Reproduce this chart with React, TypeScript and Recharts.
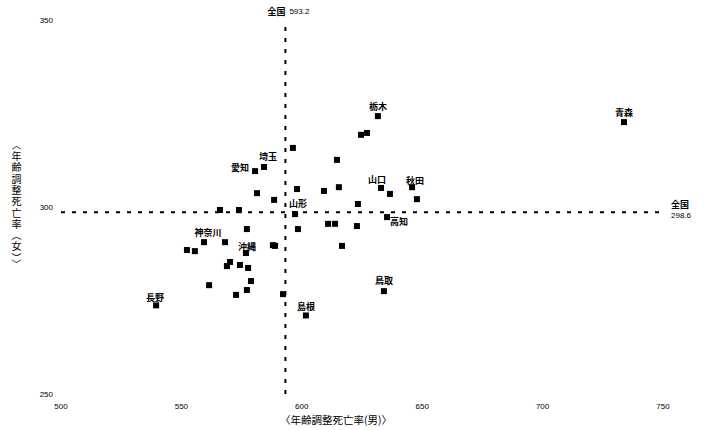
import React from 'react';
import { ScatterChart, Scatter, XAxis, YAxis, ReferenceLine } from 'recharts';

// 都道府県別 年齢調整死亡率（男・女）
const prefNames = [
  '', '埼玉', '愛知', '', '', '', '', '', '山形', '',
  '', '神奈川', '', '', '', '沖縄', '', '', '', '',
  '', '', '', '', '', '', '', '長野', '島根', '栃木',
  '', '', '', '', '', '山口', '', '秋田', '', '',
  '高知', '', '', '', '', '青森', '鳥取',
];
const maleRates = [
  596.3, 584.3, 580.6, 581.4, 588.5, 598.0, 566.0, 573.9, 597.2, 598.4,
  577.2, 559.4, 568.1, 552.3, 555.6, 576.8, 588.0, 588.9, 570.2, 568.9,
  574.3, 577.7, 578.9, 561.5, 577.2, 572.7, 592.2, 539.5, 601.7, 631.6,
  624.6, 627.1, 614.6, 609.2, 615.4, 632.9, 636.6, 645.8, 647.8, 623.3,
  635.4, 610.9, 613.8, 622.9, 616.7, 733.8, 634.1,
];
const femaleRates = [
  315.8, 310.7, 309.6, 303.7, 301.9, 304.8, 299.2, 299.2, 298.1, 294.1,
  294.1, 290.6, 290.6, 288.5, 288.2, 287.7, 289.8, 289.6, 285.3, 284.2,
  284.5, 283.7, 280.2, 279.1, 277.8, 276.5, 276.7, 273.7, 271.0, 324.3,
  319.3, 319.8, 312.6, 304.3, 305.3, 305.1, 303.5, 305.3, 302.1, 300.8,
  297.3, 295.5, 295.5, 294.9, 289.6, 322.7, 277.5,
];
const xTicks = [500, 550, 600, 650, 700, 750];
const yTicks = [250, 300, 350];
const nationalMale = 593.2;
const nationalFemale = 298.6;

// label offsets from the marker (px)
const labelOffset: Record<string, [number, number]> = {
  栃木: [0, -10], 青森: [0, -10], 埼玉: [4, -10], 愛知: [-15, -4],
  山口: [-4, -8], 秋田: [3, -7], 高知: [12, 4], 山形: [3, -11],
  神奈川: [4, -10], 沖縄: [1, -7], 長野: [-1, -8], 島根: [0, -9], 鳥取: [0, -11],
};

const data = maleRates.map((m, i) => ({ name: prefNames[i], male: m, female: femaleRates[i] }));

const numFont = '"Liberation Sans", Arial, sans-serif';
const jpFont = '"Noto Sans CJK JP", sans-serif';

const SquareMark = (props: any) => {
  const { cx, cy, payload } = props;
  const off = payload.name ? labelOffset[payload.name] : null;
  return (
    <g>
      <rect x={cx - 3} y={cy - 3} width={6} height={6} fill="#000" />
      {off && (
        <text x={cx + off[0]} y={cy + off[1]} textAnchor="middle" dominantBaseline="central"
          fontSize={9} fontWeight={700} fontFamily={jpFont} fill="#000">{payload.name}</text>
      )}
    </g>
  );
};

const TopLabel = (props: any) => {
  const { viewBox } = props;
  const x = viewBox.x;
  return (
    <g>
      <text x={x - 9} y={11} textAnchor="middle" dominantBaseline="central" fontSize={9} fontWeight={700} fontFamily={jpFont} fill="#000">全国</text>
      <text x={x + 4} y={11} textAnchor="start" dominantBaseline="central" fontSize={8} fontFamily={numFont} fill="#000">{nationalMale}</text>
    </g>
  );
};

const RightLabel = (props: any) => {
  const { viewBox } = props;
  const x = viewBox.x + viewBox.width + 8;
  const y = viewBox.y;
  return (
    <g>
      <text x={x} y={y - 8} dominantBaseline="central" fontSize={9} fontWeight={700} fontFamily={jpFont} fill="#000">全国</text>
      <text x={x} y={y + 3} dominantBaseline="central" fontSize={8} fontFamily={numFont} fill="#000">{nationalFemale}</text>
    </g>
  );
};

export default function App() {
  return (
    <div style={{ position: 'fixed', left: 0, top: 0, width: 705, height: 430, background: '#fff' }}>
      <ScatterChart width={705} height={430} margin={{ top: 20, right: 42, bottom: 6, left: 0 }}>
        <XAxis
          type="number" dataKey="male" domain={[500, 750]} ticks={xTicks} height={30}
          axisLine={false} tickLine={false} tickMargin={3}
          tick={{ fontSize: 8, fontFamily: numFont, fill: '#000' }}
        />
        <YAxis
          type="number" dataKey="female" domain={[250, 350]} ticks={yTicks} width={61}
          axisLine={false} tickLine={false} tickMargin={2}
          tick={{ fontSize: 8, fontFamily: numFont, fill: '#000' }}
        />
        <ReferenceLine x={nationalMale} stroke="#000" strokeWidth={2} strokeDasharray="4 7" label={<TopLabel />} />
        <ReferenceLine y={nationalFemale} stroke="#000" strokeWidth={2} strokeDasharray="4 7" label={<RightLabel />} />
        <Scatter data={data} shape={<SquareMark />} isAnimationActive={false} />
      </ScatterChart>
      <div style={{ position: 'absolute', left: 280, top: 413, fontSize: 10.5, fontFamily: jpFont, lineHeight: '14px', whiteSpace: 'nowrap' }}>
        〈年齢調整死亡率(男)〉
      </div>
      <div style={{ position: 'absolute', left: 10, top: 140, fontSize: 10, fontFamily: jpFont, writingMode: 'vertical-rl', letterSpacing: 1.3, lineHeight: '12px' }}>
        〈年齢調整死亡率（女）〉
      </div>
    </div>
  );
}
